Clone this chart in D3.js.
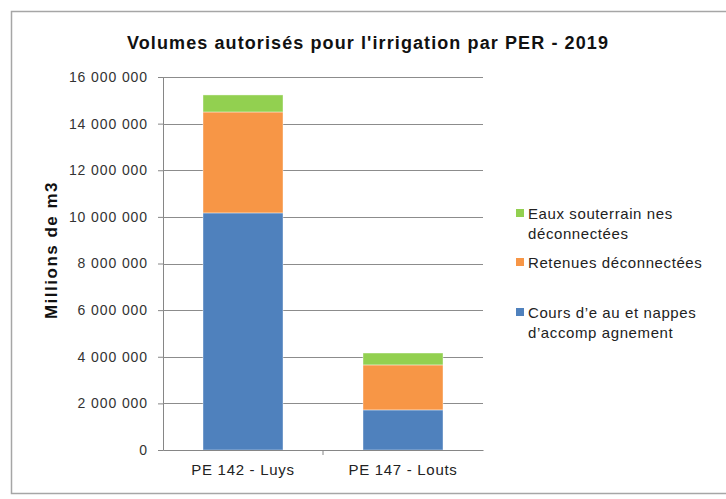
<!DOCTYPE html>
<html>
<head>
<meta charset="utf-8">
<script src="https://cdn.jsdelivr.net/npm/d3@7"></script>
<style>
  body { margin: 0; background: #fff; }
  text { font-family: "Liberation Sans", Arial, sans-serif; }
</style>
</head>
<body>
<div id="chart"></div>
<script>
// categories and series (m3)
const categories = ["PE 142 - Luys", "PE 147 - Louts"];
const series = ["Cours d'eau et nappes", "Retenues déconnectées", "Eaux souterraines"];
const coursEau = [10170000, 1720000];
const retenues = [4330000, 1930000];
const eauxSout = [730000, 510000];
const yTicks = [0, 2000000, 4000000, 6000000, 8000000, 10000000, 12000000, 14000000, 16000000];

const colors = ["#4F81BD", "#F79646", "#92D050"];
// legend lines, top to bottom (reverse order of the stack)
const legendLines = [
  ["Eaux souterrain nes", "déconnectées"],
  ["Retenues déconnectées"],
  ["Cours d\u2019e au et nappes", "d\u2019accomp agnement"]
];

const W = 726, H = 499;
const margin = { top: 77, left: 163, right: 243, bottom: 49 };
const width = W - margin.left - margin.right;
const height = H - margin.top - margin.bottom;

const rows = categories.map((c, i) => ({
  cat: c,
  [series[0]]: coursEau[i],
  [series[1]]: retenues[i],
  [series[2]]: eauxSout[i]
}));
const stacked = d3.stack().keys(series)(rows);

const svg = d3.select("#chart").append("svg")
  .attr("width", W).attr("height", H);

// outer frame
svg.append("rect")
  .attr("x", 11.5).attr("y", 11.5)
  .attr("width", 725).attr("height", 482)
  .attr("fill", "none").attr("stroke", "#a6a6a6").attr("stroke-width", 1.5);

svg.append("text")
  .attr("x", 368).attr("y", 49)
  .attr("text-anchor", "middle")
  .attr("font-size", 18).attr("font-weight", "bold").attr("fill", "#111")
  .attr("letter-spacing", 1.1)
  .text("Volumes autorisés pour l'irrigation par PER - 2019");

const g = svg.append("g").attr("transform", `translate(${margin.left},${margin.top})`);

const x = d3.scaleBand().domain(categories).range([0, width]).paddingInner(0.5).paddingOuter(0.25);
const y = d3.scaleLinear().domain([0, 16000000]).range([height, 0]);

const fmt = v => d3.format(",")(v).replace(/,/g, " ");

// y axis with gridlines
const yAxis = g.append("g")
  .call(d3.axisLeft(y).tickValues(yTicks).tickSize(5).tickPadding(10).tickFormat(fmt));
yAxis.select(".domain").attr("stroke", "#868686");
yAxis.selectAll(".tick line").attr("stroke", "#868686");
yAxis.selectAll(".tick text").attr("font-size", 14).attr("fill", "#333")
  .attr("letter-spacing", 0.9)
  .attr("font-family", "Liberation Sans, Arial, sans-serif");

g.append("g").selectAll("line.grid")
  .data(yTicks.filter(v => v > 0))
  .join("line")
  .attr("x1", 0).attr("x2", width)
  .attr("y1", d => Math.round(y(d)) + 0.5).attr("y2", d => Math.round(y(d)) + 0.5)
  .attr("stroke", "#8c8c8c").attr("stroke-width", 1.2);

// bars
g.append("g").selectAll("g.layer")
  .data(stacked)
  .join("g")
  .attr("fill", (d, i) => colors[i])
  .selectAll("rect")
  .data(d => d)
  .join("rect")
  .attr("x", d => x(d.data.cat))
  .attr("width", x.bandwidth())
  .attr("y", d => y(d[1]))
  .attr("height", d => y(d[0]) - y(d[1]))
  .attr("stroke", "#ffffff").attr("stroke-opacity", 0.5).attr("stroke-width", 0.8);

// x axis
const xAxis = g.append("g").attr("transform", `translate(0,${height})`)
  .call(d3.axisBottom(x).tickSize(0).tickPadding(14));
xAxis.select(".domain").attr("stroke", "#868686").attr("stroke-width", 1.2);
xAxis.selectAll(".tick text").attr("font-size", 15).attr("fill", "#222")
  .attr("letter-spacing", 0.7)
  .attr("font-family", "Liberation Sans, Arial, sans-serif");
// boundary tick between categories
g.append("line")
  .attr("x1", width / 2).attr("x2", width / 2)
  .attr("y1", height).attr("y2", height + 5)
  .attr("stroke", "#868686");

// y axis title
svg.append("text")
  .attr("transform", "translate(57,250) rotate(-90)")
  .attr("text-anchor", "middle")
  .attr("font-size", 17).attr("font-weight", "bold").attr("fill", "#111")
  .attr("letter-spacing", 1.5)
  .text("Millions de m3");

// legend
const legendY = [219, 268, 318];
const legend = svg.append("g");
legendLines.forEach((lines, i) => {
  const colorIdx = series.length - 1 - i;
  legend.append("rect")
    .attr("x", 516).attr("y", legendY[i] - 10)
    .attr("width", 8).attr("height", 8)
    .attr("fill", colors[colorIdx]);
  lines.forEach((t, j) => {
    legend.append("text")
      .attr("x", 528).attr("y", legendY[i] + j * 20)
      .attr("font-size", 15).attr("fill", "#222")
      .attr("letter-spacing", 0.6)
      .text(t);
  });
});
</script>
</body>
</html>
